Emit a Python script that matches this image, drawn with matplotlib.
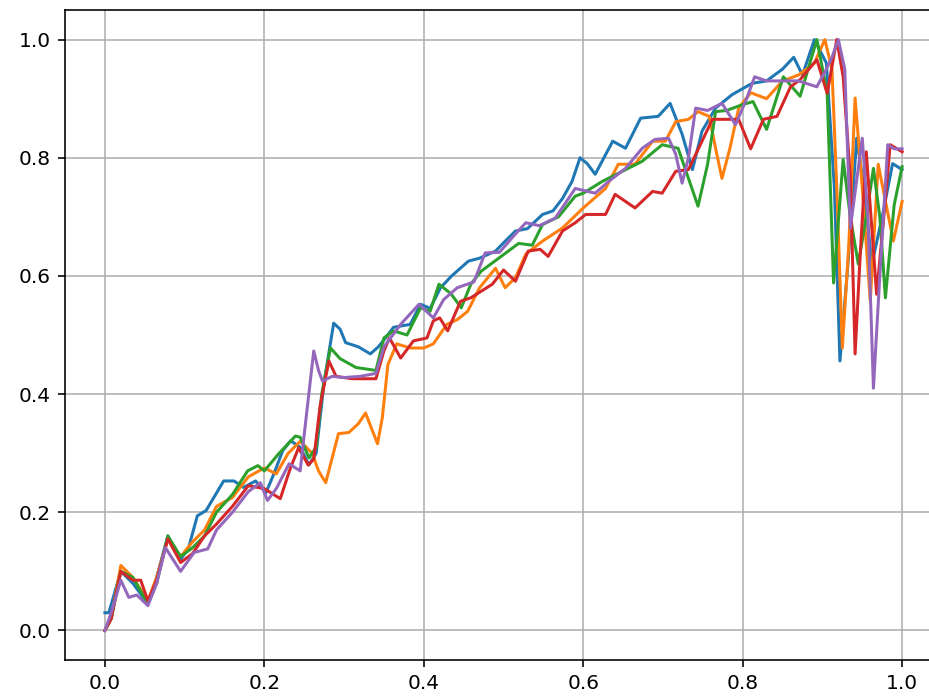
import matplotlib
matplotlib.use("Agg")
import matplotlib.pyplot as plt

# 五条曲线的数据
blue_x = [0, 0.005, 0.02, 0.035, 0.054, 0.065, 0.079, 0.095, 0.105, 0.116, 0.127, 0.149, 0.162, 0.174,
          0.189, 0.202, 0.212, 0.223, 0.233, 0.245, 0.256, 0.265, 0.275, 0.287, 0.295, 0.302, 0.318,
          0.333, 0.343, 0.352, 0.362, 0.383, 0.396, 0.408, 0.421, 0.435, 0.456, 0.47, 0.49, 0.503,
          0.515, 0.53, 0.549, 0.562, 0.574, 0.586, 0.596, 0.605, 0.615, 0.637, 0.653, 0.672, 0.694,
          0.709, 0.724, 0.737, 0.749, 0.766, 0.787, 0.812, 0.83, 0.85, 0.864, 0.875, 0.89, 0.905,
          0.915, 0.922, 0.932, 0.943, 0.952, 0.962, 0.975, 0.988, 1.0]
blue_y = [0.03, 0.03, 0.10, 0.08, 0.045, 0.09, 0.16, 0.12, 0.14, 0.194, 0.203, 0.253, 0.253, 0.242,
          0.253, 0.233, 0.265, 0.304, 0.321, 0.31, 0.28, 0.30, 0.42, 0.52, 0.51, 0.487, 0.48,
          0.468, 0.48, 0.495, 0.513, 0.518, 0.552, 0.545, 0.58, 0.60, 0.625, 0.63, 0.642, 0.66,
          0.676, 0.68, 0.704, 0.71, 0.731, 0.76, 0.80, 0.79, 0.772, 0.828, 0.816, 0.867, 0.87,
          0.892, 0.84, 0.78, 0.845, 0.884, 0.907, 0.926, 0.93, 0.95, 0.97, 0.94, 1.0, 0.96,
          0.75, 0.456, 0.62, 0.833, 0.75, 0.62, 0.70, 0.79, 0.78]

orange_x = [0, 0.008, 0.02, 0.035, 0.054, 0.065, 0.079, 0.095, 0.11, 0.125, 0.14, 0.16, 0.18, 0.2,
            0.215, 0.23, 0.245, 0.26, 0.268, 0.277, 0.293, 0.306, 0.318, 0.327, 0.335, 0.342, 0.348,
            0.355, 0.366, 0.383, 0.4, 0.412, 0.429, 0.442, 0.455, 0.47, 0.49, 0.502, 0.515, 0.528,
            0.549, 0.574, 0.6, 0.628, 0.644, 0.665, 0.687, 0.703, 0.716, 0.732, 0.744, 0.758, 0.766,
            0.774, 0.784, 0.795, 0.81, 0.83, 0.85, 0.87, 0.89, 0.903, 0.912, 0.918, 0.925, 0.933,
            0.941, 0.95, 0.96, 0.97, 0.98, 0.989, 1.0]
orange_y = [0.0, 0.02, 0.11, 0.09, 0.05, 0.09, 0.155, 0.125, 0.15, 0.17, 0.21, 0.225, 0.26, 0.275,
            0.265, 0.30, 0.32, 0.30, 0.27, 0.25, 0.333, 0.335, 0.35, 0.368, 0.34, 0.316, 0.36,
            0.45, 0.485, 0.478, 0.478, 0.485, 0.518, 0.526, 0.54, 0.58, 0.613, 0.58, 0.597, 0.637,
            0.659, 0.681, 0.715, 0.748, 0.789, 0.789, 0.828, 0.828, 0.861, 0.865, 0.878, 0.87, 0.816,
            0.765, 0.816, 0.884, 0.91, 0.90, 0.93, 0.94, 0.96, 1.0, 0.95, 0.75, 0.478, 0.65,
            0.901, 0.75, 0.557, 0.789, 0.72, 0.659, 0.726]

green_x = [0, 0.008, 0.02, 0.035, 0.054, 0.065, 0.079, 0.095, 0.11, 0.125, 0.14, 0.16, 0.179, 0.192,
           0.2, 0.218, 0.239, 0.245, 0.256, 0.265, 0.272, 0.283, 0.295, 0.315, 0.34, 0.35, 0.362,
           0.379, 0.396, 0.408, 0.419, 0.434, 0.447, 0.459, 0.472, 0.494, 0.519, 0.536, 0.549, 0.569,
           0.59, 0.6, 0.624, 0.649, 0.674, 0.699, 0.719, 0.732, 0.744, 0.756, 0.766, 0.78, 0.8,
           0.813, 0.83, 0.851, 0.872, 0.893, 0.906, 0.914, 0.926, 0.935, 0.945, 0.955, 0.964,
           0.972, 0.979, 0.99, 1.0]
green_y = [0.0, 0.02, 0.10, 0.09, 0.045, 0.08, 0.16, 0.125, 0.14, 0.16, 0.20, 0.23, 0.27, 0.279,
           0.27, 0.299, 0.329, 0.327, 0.292, 0.31, 0.40, 0.478, 0.46, 0.445, 0.44, 0.495, 0.507,
           0.50, 0.546, 0.54, 0.586, 0.57, 0.546, 0.586, 0.608, 0.63, 0.655, 0.652, 0.687, 0.70,
           0.735, 0.74, 0.76, 0.777, 0.794, 0.822, 0.816, 0.765, 0.718, 0.789, 0.878, 0.88, 0.89,
           0.895, 0.848, 0.937, 0.904, 1.0, 0.909, 0.588, 0.797, 0.70, 0.62, 0.70, 0.782,
           0.70, 0.563, 0.72, 0.785]

red_x = [0, 0.008, 0.02, 0.035, 0.045, 0.054, 0.065, 0.079, 0.095, 0.11, 0.125, 0.14, 0.16, 0.18,
         0.2, 0.22, 0.233, 0.243, 0.255, 0.262, 0.27, 0.281, 0.29, 0.31, 0.34, 0.35, 0.357, 0.371,
         0.387, 0.404, 0.412, 0.42, 0.43, 0.446, 0.459, 0.479, 0.486, 0.5, 0.515, 0.531, 0.546,
         0.556, 0.574, 0.59, 0.603, 0.628, 0.64, 0.665, 0.687, 0.699, 0.716, 0.732, 0.749, 0.762,
         0.78, 0.795, 0.81, 0.826, 0.843, 0.86, 0.872, 0.893, 0.906, 0.918, 0.926, 0.935, 0.941,
         0.948, 0.955, 0.968, 0.977, 0.985, 1.0]
red_y = [0.0, 0.02, 0.10, 0.085, 0.085, 0.05, 0.085, 0.155, 0.115, 0.13, 0.16, 0.18, 0.21, 0.245,
         0.24, 0.223, 0.276, 0.309, 0.28, 0.29, 0.38, 0.456, 0.43, 0.426, 0.426, 0.473, 0.495, 0.461,
         0.49, 0.495, 0.524, 0.529, 0.507, 0.557, 0.563, 0.58, 0.586, 0.61, 0.591, 0.642, 0.645,
         0.633, 0.676, 0.69, 0.704, 0.704, 0.738, 0.715, 0.743, 0.74, 0.777, 0.78, 0.828, 0.865,
         0.865, 0.865, 0.815, 0.865, 0.87, 0.92, 0.932, 0.966, 0.909, 1.0, 0.937, 0.768, 0.468,
         0.65, 0.81, 0.569, 0.70, 0.822, 0.81]

purple_x = [0, 0.008, 0.02, 0.03, 0.04, 0.054, 0.065, 0.076, 0.095, 0.112, 0.129, 0.14, 0.16, 0.18,
            0.195, 0.204, 0.215, 0.231, 0.245, 0.252, 0.262, 0.268, 0.273, 0.285, 0.3, 0.32, 0.34,
            0.35, 0.371, 0.394, 0.412, 0.425, 0.442, 0.463, 0.477, 0.495, 0.515, 0.528, 0.545,
            0.565, 0.59, 0.615, 0.632, 0.653, 0.674, 0.69, 0.707, 0.716, 0.724, 0.732, 0.741, 0.756,
            0.774, 0.791, 0.805, 0.815, 0.83, 0.85, 0.87, 0.893, 0.905, 0.912, 0.92, 0.928, 0.935,
            0.95, 0.957, 0.964, 0.972, 0.982, 0.99, 1.0]
purple_y = [0.0, 0.03, 0.085, 0.056, 0.06, 0.042, 0.08, 0.14, 0.10, 0.132, 0.138, 0.17, 0.20, 0.235,
            0.25, 0.22, 0.24, 0.282, 0.27, 0.355, 0.473, 0.44, 0.422, 0.43, 0.428, 0.43, 0.435,
            0.48, 0.518, 0.552, 0.529, 0.56, 0.58, 0.59, 0.639, 0.64, 0.671, 0.69, 0.685,
            0.698, 0.748, 0.74, 0.76, 0.782, 0.816, 0.831, 0.833, 0.806, 0.757, 0.80, 0.884, 0.88,
            0.892, 0.856, 0.90, 0.937, 0.93, 0.93, 0.93, 0.92, 0.95, 0.97, 1.0, 0.95, 0.681,
            0.833, 0.70, 0.41, 0.60, 0.822, 0.815, 0.815]

series = [(blue_x, blue_y), (orange_x, orange_y), (green_x, green_y),
          (red_x, red_y), (purple_x, purple_y)]

fig = plt.figure(figsize=(929 / 145, 700 / 145), dpi=145)
# 坐标轴右侧超出画布（原图被裁切）
ax = fig.add_axes([65 / 929, 40 / 700, 877 / 929, 650 / 700])
for xs, ys in series:
    ax.plot(xs, ys)
ax.set_xlim(-0.05, 1.05)
ax.set_ylim(-0.05, 1.05)
ax.spines['right'].set_visible(False)
ax.grid(True)

fig.savefig("out.png", dpi=145)
